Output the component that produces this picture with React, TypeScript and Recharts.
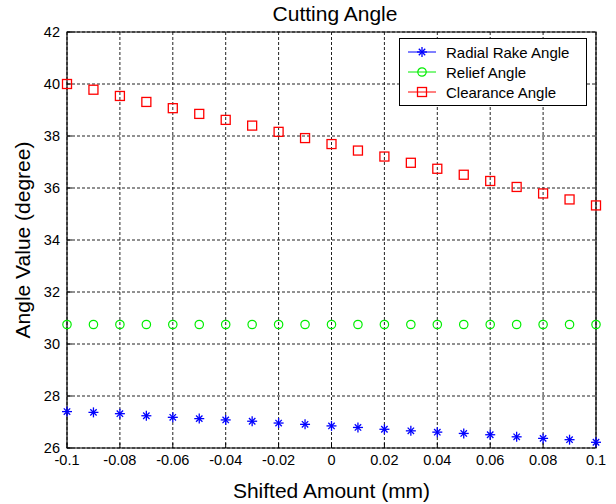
import { CartesianGrid, Legend, ReferenceArea, Scatter, ScatterChart, XAxis, YAxis } from 'recharts';

const shiftedAmount = [
  -0.1, -0.09, -0.08, -0.07, -0.06, -0.05, -0.04, -0.03, -0.02, -0.01, 0,
  0.01, 0.02, 0.03, 0.04, 0.05, 0.06, 0.07, 0.08, 0.09, 0.1,
];
const radialRake = [
  27.4, 27.37, 27.32, 27.24, 27.18, 27.13, 27.08, 27.03, 26.96, 26.91, 26.85,
  26.79, 26.72, 26.66, 26.61, 26.56, 26.51, 26.43, 26.37, 26.32, 26.22,
];
const relief = [
  30.75, 30.75, 30.75, 30.75, 30.75, 30.75, 30.75, 30.75, 30.75, 30.75, 30.75,
  30.75, 30.75, 30.75, 30.75, 30.75, 30.75, 30.75, 30.75, 30.75, 30.75,
];
const clearance = [
  40.0, 39.78, 39.54, 39.31, 39.07, 38.85, 38.62, 38.4, 38.16, 37.92, 37.69,
  37.44, 37.21, 36.97, 36.74, 36.51, 36.27, 36.04, 35.79, 35.56, 35.33,
];
const xTicks = [-0.1, -0.08, -0.06, -0.04, -0.02, 0, 0.02, 0.04, 0.06, 0.08, 0.1];
const yTicks = [26, 28, 30, 32, 34, 36, 38, 40, 42];

const FONT = '"Liberation Sans", Arial, Helvetica, sans-serif';
const BLUE = '#0000ff';
const GREEN = '#00ee00';
const RED = '#ff0000';

type MarkerKind = 'star' | 'circle' | 'square';

function toPoints(ys: number[]) {
  return shiftedAmount.map((x, i) => ({ x, y: ys[i] }));
}

function Marker({ kind, cx, cy, color }: { kind: MarkerKind; cx: number; cy: number; color: string }) {
  if (kind === 'star') {
    const r = 5;
    const d = 3.2;
    return (
      <g stroke={color} strokeWidth={1.3}>
        <line x1={cx - r} y1={cy} x2={cx + r} y2={cy} />
        <line x1={cx} y1={cy - r} x2={cx} y2={cy + r} />
        <line x1={cx - d} y1={cy - d} x2={cx + d} y2={cy + d} />
        <line x1={cx - d} y1={cy + d} x2={cx + d} y2={cy - d} />
      </g>
    );
  }
  if (kind === 'circle') {
    return <circle cx={cx} cy={cy} r={4.2} fill="none" stroke={color} strokeWidth={1.2} />;
  }
  return <rect x={cx - 4.5} y={cy - 4.5} width={9} height={9} fill="none" stroke={color} strokeWidth={1.3} />;
}

const series: { name: string; kind: MarkerKind; color: string; values: number[] }[] = [
  { name: 'Radial Rake Angle', kind: 'star', color: BLUE, values: radialRake },
  { name: 'Relief Angle', kind: 'circle', color: GREEN, values: relief },
  { name: 'Clearance Angle', kind: 'square', color: RED, values: clearance },
];

function fmtTick(v: number): string {
  return String(Math.round(v * 100) / 100);
}

const noLabel = () => <g />;

function LegendBox() {
  return (
    <div
      style={{
        width: 186,
        height: 63,
        border: '1px solid #000',
        background: '#fff',
        fontFamily: FONT,
        fontSize: 15,
        paddingTop: 3,
        boxSizing: 'content-box',
      }}
    >
      {series.map((s) => (
        <div key={s.name} style={{ display: 'flex', alignItems: 'center', height: 20 }}>
          <svg width={46} height={20} style={{ flexShrink: 0 }}>
            <line x1={8} y1={10} x2={36} y2={10} stroke={s.color} strokeWidth={1} />
            <Marker kind={s.kind} cx={22} cy={10} color={s.color} />
          </svg>
          <span style={{ color: '#000', whiteSpace: 'nowrap' }}>{s.name}</span>
        </div>
      ))}
    </div>
  );
}

export default function App() {
  return (
    <div style={{ position: 'absolute', left: 0, top: 0, width: 616, height: 504, background: '#fff' }}>
      <ScatterChart width={616} height={504} margin={{ top: 32, right: 20, bottom: 26, left: 27 }}>
        <CartesianGrid stroke="#222" strokeDasharray="3 2" strokeWidth={1} />
        <XAxis
          type="number"
          dataKey="x"
          domain={[-0.1, 0.1]}
          ticks={xTicks}
          tickFormatter={fmtTick}
          interval={0}
          height={30}
          tickSize={-5}
          tickMargin={12}
          axisLine={false}
          tickLine={{ stroke: '#000' }}
          tick={{ fill: '#000', fontSize: 14.5, fontFamily: FONT }}
        />
        <XAxis
          xAxisId="top"
          orientation="top"
          type="number"
          domain={[-0.1, 0.1]}
          ticks={xTicks}
          interval={0}
          height={0}
          tickSize={-5}
          axisLine={false}
          tickLine={{ stroke: '#000' }}
          tick={noLabel}
        />
        <YAxis
          type="number"
          dataKey="y"
          domain={[26, 42]}
          ticks={yTicks}
          interval={0}
          width={40}
          tickSize={-5}
          tickMargin={12}
          axisLine={false}
          tickLine={{ stroke: '#000' }}
          tick={{ fill: '#000', fontSize: 14.5, fontFamily: FONT }}
        />
        <YAxis
          yAxisId="right"
          orientation="right"
          type="number"
          domain={[26, 42]}
          ticks={yTicks}
          interval={0}
          width={0}
          tickSize={-5}
          axisLine={false}
          tickLine={{ stroke: '#000' }}
          tick={noLabel}
        />
        <ReferenceArea x1={-0.1} x2={0.1} y1={26} y2={42} fill="none" stroke="#000" strokeWidth={1.2} />
        {series.map((s) => (
          <Scatter
            key={s.name}
            name={s.name}
            data={toPoints(s.values)}
            isAnimationActive={false}
            shape={(p: any) => <Marker kind={s.kind} cx={p.cx} cy={p.cy} color={s.color} />}
          />
        ))}
        <Legend
          layout="horizontal"
          verticalAlign="middle"
          align="center"
          content={() => <LegendBox />}
          wrapperStyle={{ left: 399, top: 38, width: 188, height: 67 }}
        />
      </ScatterChart>
      <div
        style={{
          position: 'absolute',
          left: 67,
          width: 536,
          top: 2,
          textAlign: 'center',
          fontFamily: FONT,
          fontSize: 21,
          color: '#000',
        }}
      >
        Cutting Angle
      </div>
      <div
        style={{
          position: 'absolute',
          left: 67,
          width: 529,
          top: 479,
          textAlign: 'center',
          fontFamily: FONT,
          fontSize: 21,
          color: '#000',
        }}
      >
        Shifted Amount (mm)
      </div>
      <div
        style={{
          position: 'absolute',
          left: 23,
          top: 240,
          transform: 'translate(-50%, -50%) rotate(-90deg)',
          fontFamily: FONT,
          fontSize: 21,
          color: '#000',
          whiteSpace: 'nowrap',
        }}
      >
        Angle Value (degree)
      </div>
    </div>
  );
}
